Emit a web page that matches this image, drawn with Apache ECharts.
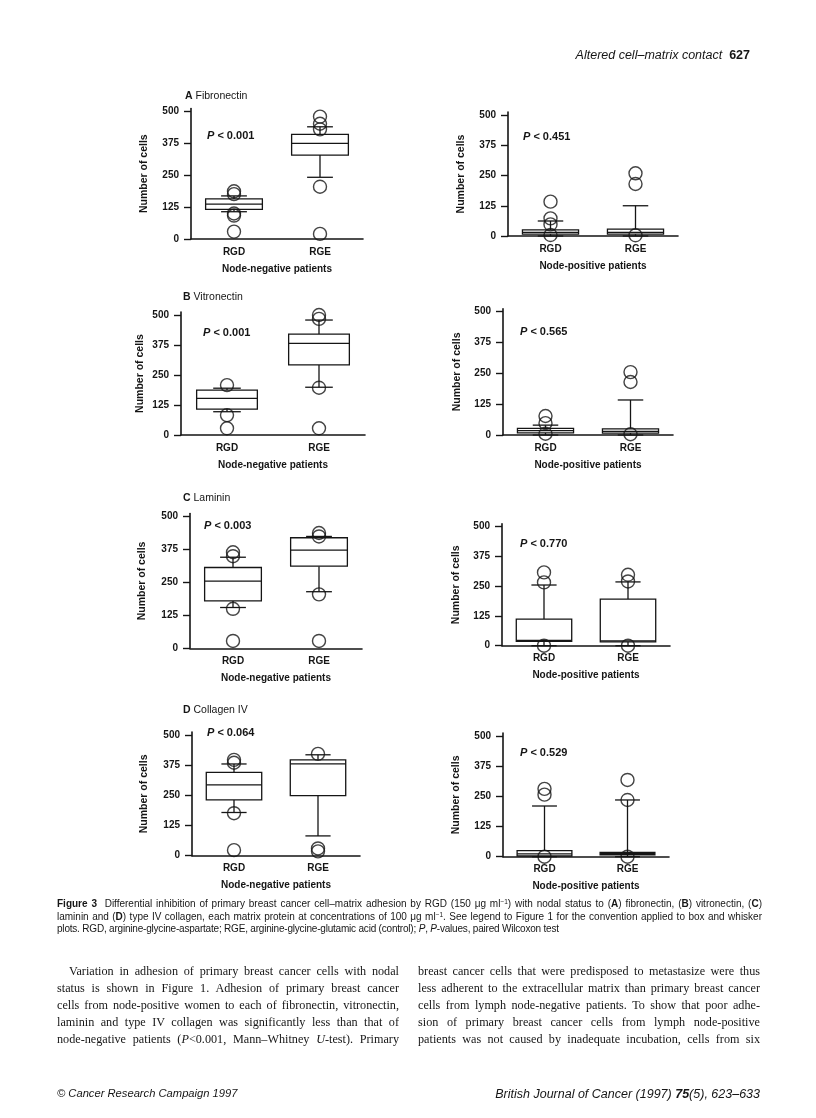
<!DOCTYPE html>
<html>
<head>
<meta charset="utf-8">
<script src="https://cdn.jsdelivr.net/npm/echarts@6/dist/echarts.min.js"></script>
<style>
  html, body { margin:0; padding:0; background:#fff; }
  #chart { position:absolute; left:0; top:0; width:816px; height:1118px; }
  .t { position:absolute; color:#161616; white-space:nowrap; }
  .sans { font-family:"Liberation Sans", Arial, Helvetica, sans-serif; }
  .serif { font-family:"Liberation Serif", "Times New Roman", serif; }
  .jl { text-align:justify; text-align-last:justify; white-space:normal; overflow:hidden; height:17px; }
  .cl { text-align:justify; text-align-last:justify; white-space:normal; overflow:hidden; height:13px; }
  sup { font-size:0.65em; line-height:0; vertical-align:0.45em; }
</style>
</head>
<body>
<div id="chart"></div>

<div class="t sans" style="right:66px; top:48px; font-size:12.5px;"><i>Altered cell–matrix contact</i>&nbsp; <b>627</b></div>

<div class="t sans cl" style="left:57px; top:897px; width:705px; font-size:10px; line-height:13px;"><b>Figure 3</b>&nbsp; Differential inhibition of primary breast cancer cell–matrix adhesion by RGD (150 μg ml<sup>−1</sup>) with nodal status to (<b>A</b>) fibronectin, (<b>B</b>) vitronectin, (<b>C</b>)</div>
<div class="t sans cl" style="left:57px; top:909.5px; width:705px; font-size:10px; line-height:13px;">laminin and (<b>D</b>) type IV collagen, each matrix protein at concentrations of 100 μg ml<sup>−1</sup>. See legend to Figure 1 for the convention applied to box and whisker</div>
<div class="t sans" style="left:57px; top:922px; font-size:10px; line-height:13px; letter-spacing:-0.2px;">plots. RGD, arginine-glycine-aspartate; RGE, arginine-glycine-glutamic acid (control); <i>P</i>, <i>P</i>-values, paired Wilcoxon test</div>

<div class="t serif jl" style="left:69px; top:963px; width:330px; font-size:12.2px; line-height:17px;">Variation in adhesion of primary breast cancer cells with nodal</div>
<div class="t serif jl" style="left:57px; top:980px; width:342px; font-size:12.2px; line-height:17px;">status is shown in Figure 1. Adhesion of primary breast cancer</div>
<div class="t serif jl" style="left:57px; top:997px; width:342px; font-size:12.2px; line-height:17px;">cells from node-positive women to each of fibronectin, vitronectin,</div>
<div class="t serif jl" style="left:57px; top:1014px; width:342px; font-size:12.2px; line-height:17px;">laminin and type IV collagen was significantly less than that of</div>
<div class="t serif jl" style="left:57px; top:1031px; width:342px; font-size:12.2px; line-height:17px;">node-negative patients (<i>P</i>&lt;0.001, Mann–Whitney <i>U</i>-test). Primary</div>

<div class="t serif jl" style="left:418px; top:963px; width:342px; font-size:12.2px; line-height:17px;">breast cancer cells that were predisposed to metastasize were thus</div>
<div class="t serif jl" style="left:418px; top:980px; width:342px; font-size:12.2px; line-height:17px;">less adherent to the extracellular matrix than primary breast cancer</div>
<div class="t serif jl" style="left:418px; top:997px; width:342px; font-size:12.2px; line-height:17px;">cells from lymph node-negative patients. To show that poor adhe-</div>
<div class="t serif jl" style="left:418px; top:1014px; width:342px; font-size:12.2px; line-height:17px;">sion of primary breast cancer cells from lymph node-positive</div>
<div class="t serif jl" style="left:418px; top:1031px; width:342px; font-size:12.2px; line-height:17px;">patients was not caused by inadequate incubation, cells from six</div>

<div class="t sans" style="left:57px; top:1087px; font-size:11.2px;"><i>© Cancer Research Campaign 1997</i></div>
<div class="t sans" style="right:56px; top:1087px; font-size:12.5px;"><i>British Journal of Cancer (1997) <b>75</b>(5), 623–633</i></div>

<script>
// ---------------- data ----------------
const categories = ['RGD', 'RGE'];
const yTicks = [0, 125, 250, 375, 500];
const panelLetters = ['A', 'B', 'C', 'D'];
const matrixProteins = ['Fibronectin', 'Vitronectin', 'Laminin', 'Collagen IV'];
const groupNames = ['Node-negative patients', 'Node-positive patients'];
const pValues = ['0.001', '0.451', '0.001', '0.565', '0.003', '0.770', '0.064', '0.529'];

// [min, Q1, median, Q3, max] for RGD, RGE
const boxFibNeg = [[107, 116, 137, 157, 169], [242, 329, 375, 410, 440]];
const outFibNeg = [[187, 176, 100, 92, 29], [480, 452, 430, 205, 20]];
const boxFibPos = [[0, 8, 15, 25, 62], [0, 8, 15, 28, 125]];
const outFibPos = [[142, 73, 48, 4], [259, 215, 3]];
const boxVitNeg = [[97, 108, 153, 187, 195], [199, 292, 382, 420, 479]];
const outVitNeg = [[208, 83, 28], [500, 484, 197, 28]];
const boxVitPos = [[0, 9, 18, 27, 40], [0, 8, 15, 25, 142]];
const outVitPos = [[77, 48, 5], [255, 215, 3]];
const boxLamNeg = [[155, 180, 255, 307, 346], [215, 312, 373, 420, 425]];
const outLamNeg = [[365, 350, 150, 28], [438, 425, 205, 28]];
const boxLamPos = [[0, 18, 22, 112, 255], [0, 16, 20, 196, 268]];
const outLamPos = [[308, 266, 0], [298, 270, 0]];
const boxColNeg = [[179, 231, 293, 345, 380], [82, 249, 380, 397, 418]];
const outColNeg = [[397, 385, 176, 23], [422, 30, 18]];
const boxColPos = [[0, 3, 12, 25, 210], [0, 8, 13, 18, 235]];
const outColPos = [[281, 257, 0], [318, 235, 0]];

const boxes = [boxFibNeg, boxFibPos, boxVitNeg, boxVitPos, boxLamNeg, boxLamPos, boxColNeg, boxColPos];
const outliers = [outFibNeg, outFibPos, outVitNeg, outVitPos, outLamNeg, outLamPos, outColNeg, outColPos];

// ---------------- layout (px) ----------------
const YMAX = 512;
const layout = [
  {x: 191, w: 172, y0: 239,   y500: 111.5, ng: 41},
  {x: 508, w: 170, y0: 236,   y500: 115,   ng: 41},
  {x: 181, w: 184, y0: 435,   y500: 315,   ng: 35},
  {x: 503, w: 170, y0: 435,   y500: 311.7, ng: 40},
  {x: 190, w: 172, y0: 648.3, y500: 516.7, ng: 42},
  {x: 502, w: 168, y0: 645.7, y500: 526.7, ng: 40},
  {x: 192, w: 168, y0: 855.7, y500: 735,   ng: 42},
  {x: 503, w: 166, y0: 856.7, y500: 736,   ng: 41}
];
const titlePos = [[185, 96], [183, 297], [183, 498], [183, 710]];
const pPos = [[207, 136], [523, 137], [203, 333], [520, 332], [204, 526], [520, 544], [207, 733], [520, 753]];

const FONT = '"Liberation Sans", Arial, Helvetica, sans-serif';
const INK = '#151515';

function renderBox(params, api) {
  const c = api.value(0);
  const v = [api.value(1), api.value(2), api.value(3), api.value(4), api.value(5)];
  const band = api.size([1, 0])[0];
  const bw = band * 0.66, cw = band * 0.3;
  const p = v.map(val => api.coord([c, val]));
  const cx = p[0][0];
  const st = {stroke: INK, lineWidth: 1.3, fill: null};
  const children = [
    {type: 'line', shape: {x1: cx, y1: p[3][1], x2: cx, y2: p[4][1]}, style: st},
    {type: 'line', shape: {x1: cx, y1: p[1][1], x2: cx, y2: p[0][1]}, style: st},
    {type: 'line', shape: {x1: cx - cw / 2, y1: p[4][1], x2: cx + cw / 2, y2: p[4][1]}, style: st},
    {type: 'line', shape: {x1: cx - cw / 2, y1: p[0][1], x2: cx + cw / 2, y2: p[0][1]}, style: st},
    {type: 'rect', shape: {x: cx - bw / 2, y: p[3][1], width: bw, height: p[1][1] - p[3][1]},
      style: {fill: '#fff', stroke: INK, lineWidth: 1.3}},
    {type: 'line', shape: {x1: cx - bw / 2, y1: p[2][1], x2: cx + bw / 2, y2: p[2][1]}, style: st}
  ];
  return {type: 'group', children};
}

const grids = [], xAxes = [], yAxes = [], series = [], graphics = [];
layout.forEach((L, i) => {
  const top = L.y0 - (L.y0 - L.y500) * YMAX / 500;
  grids.push({left: L.x, width: L.w, top: top, height: L.y0 - top, containLabel: false});
  xAxes.push({
    gridIndex: i, type: 'category', data: categories,
    axisLine: {show: true, lineStyle: {color: INK, width: 1.6}},
    axisTick: {show: false},
    axisLabel: {fontSize: 10, fontWeight: 'bold', color: INK, fontFamily: FONT, margin: 8},
    splitLine: {show: false},
    name: groupNames[i % 2], nameLocation: 'middle', nameGap: 25,
    nameTextStyle: {fontSize: 10, fontWeight: 'bold', color: INK, fontFamily: FONT}
  });
  yAxes.push({
    gridIndex: i, type: 'value', min: 0, max: YMAX,
    axisLine: {show: true, lineStyle: {color: INK, width: 1.6}},
    axisTick: {show: true, length: 7, customValues: yTicks, lineStyle: {color: INK, width: 1.4}},
    axisLabel: {customValues: yTicks, fontSize: 10, fontWeight: 'bold', color: INK, fontFamily: FONT, margin: 12},
    splitLine: {show: false},
    name: 'Number of cells', nameLocation: 'middle', nameGap: L.ng,
    nameTextStyle: {fontSize: 10.5, fontWeight: 'bold', color: INK, fontFamily: FONT}
  });
  series.push({
    type: 'custom', xAxisIndex: i, yAxisIndex: i, silent: true, z: 2,
    renderItem: renderBox,
    encode: {x: 0, y: [1, 2, 3, 4, 5]},
    data: boxes[i].map((b, j) => [j].concat(b))
  });
  series.push({
    type: 'scatter', xAxisIndex: i, yAxisIndex: i, silent: true, z: 3,
    symbol: 'circle', symbolSize: 13,
    itemStyle: {color: 'rgba(0,0,0,0)', borderColor: INK, borderWidth: 1.4},
    data: outliers[i].flatMap((arr, j) => arr.map(v => [j, v]))
  });
  graphics.push({
    type: 'text', x: pPos[i][0], y: pPos[i][1], silent: true,
    style: {
      text: '{p|P} < ' + pValues[i],
      fill: INK, fontSize: 11, fontWeight: 'bold', fontFamily: FONT,
      verticalAlign: 'middle', textVerticalAlign: 'middle',
      rich: {p: {fontSize: 11, fontWeight: 'bold', fontStyle: 'italic', fontFamily: FONT, fill: INK}}
    }
  });
});
panelLetters.forEach((letter, k) => {
  graphics.push({
    type: 'text', x: titlePos[k][0], y: titlePos[k][1], silent: true,
    style: {
      text: '{l|' + letter + '} ' + matrixProteins[k],
      fill: INK, fontSize: 10.5, fontFamily: FONT,
      verticalAlign: 'middle', textVerticalAlign: 'middle',
      rich: {l: {fontSize: 10.5, fontWeight: 'bold', fontFamily: FONT, fill: INK}}
    }
  });
});

const chart = echarts.init(document.getElementById('chart'), null, {renderer: 'canvas'});
chart.setOption({
  animation: false,
  backgroundColor: '#fff',
  grid: grids, xAxis: xAxes, yAxis: yAxes, series: series, graphic: graphics
});
</script>
</body>
</html>
